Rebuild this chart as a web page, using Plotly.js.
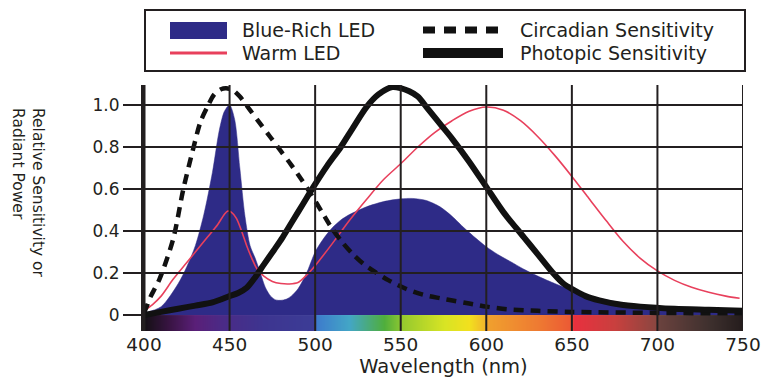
<!DOCTYPE html>
<html>
<head>
<meta charset="utf-8">
<script src="https://cdn.plot.ly/plotly-3.0.1.min.js"></script>
<style>html,body{margin:0;padding:0;background:#fff;}#chart{width:762px;height:381px;}</style>
</head>
<body>
<div id="chart"></div>
<script>
// ---- Data ----
const seriesNames = ["Blue-Rich LED", "Warm LED", "Circadian Sensitivity", "Photopic Sensitivity"];

const blueWl  = [400,410,420,425,430,435,440,444,447,450,453,456,459,462,465,468,471,474,477,480,483,486,490,495,500,505,510,515,520,530,540,550,557,565,573,580,587,594,600,607,614,622,631,640,649,660,670,685,700,725,750];
const blueLed = [0.01,0.04,0.15,0.23,0.33,0.48,0.68,0.88,0.97,1.0,0.93,0.70,0.47,0.33,0.27,0.20,0.13,0.09,0.072,0.07,0.075,0.09,0.125,0.2,0.30,0.365,0.415,0.452,0.478,0.515,0.54,0.553,0.555,0.545,0.515,0.47,0.415,0.365,0.325,0.287,0.255,0.218,0.182,0.15,0.122,0.093,0.072,0.052,0.04,0.03,0.024];

const warmWl  = [400,405,410,417,425,430,437,443,447,449,451,454,457,460,463,466,470,475,480,485,490,495,500,510,520,530,540,550,560,570,580,590,600,610,620,630,640,650,660,670,680,690,700,710,720,730,740,748];
const warmLed = [0.02,0.05,0.09,0.17,0.25,0.30,0.37,0.43,0.48,0.495,0.49,0.46,0.40,0.33,0.27,0.22,0.185,0.16,0.15,0.148,0.155,0.19,0.235,0.34,0.45,0.55,0.645,0.72,0.80,0.87,0.925,0.97,0.99,0.975,0.925,0.85,0.76,0.66,0.555,0.45,0.35,0.27,0.21,0.165,0.132,0.108,0.09,0.08];

const circWl   = [400,402,404,409,417,423,429,433,437,441,445,448,452,456,462,468,474,480,486,492,498,504,510,516,522,528,535,543,553,563,573,581,590,600,612,630,650,700,750];
const circadian = [0.01,0.05,0.09,0.17,0.36,0.60,0.80,0.92,0.99,1.05,1.075,1.08,1.07,1.04,0.975,0.91,0.845,0.78,0.715,0.645,0.57,0.49,0.41,0.345,0.29,0.245,0.205,0.165,0.125,0.097,0.08,0.068,0.055,0.04,0.028,0.02,0.015,0.01,0.008];

const photWl   = [400,410,420,430,440,450,455,460,465,470,476,481,487,493,499,507,515,522,530,537,545,550,555,560,566,573,580,590,600,610,622,630,639,645,651,658,666,678,690,710,730,750];
const photopic = [0.0,0.015,0.03,0.045,0.06,0.09,0.105,0.13,0.18,0.24,0.31,0.37,0.45,0.53,0.61,0.71,0.80,0.89,0.99,1.05,1.085,1.08,1.065,1.04,0.98,0.91,0.84,0.73,0.61,0.49,0.37,0.29,0.20,0.15,0.12,0.09,0.07,0.05,0.04,0.03,0.025,0.02];

// visible-spectrum strip under the axis
const specWl     = [400,415,430,445,470,499,501,520,540,549,551,575,590,599,601,630,649,651,675,699,701,730,750];
const specColors = ["#141014","#3a1445","#5a1f78","#4b2a86","#3d3590","#3c3c96","#3d7ccc","#43a6c6","#4fae3c","#86c432","#95c92e","#d8e424","#f2e01e","#f2b42c","#f0a02e","#ee7a32","#ec5a34","#e8303e","#c8403e","#8a4640","#6a423e","#3e302e","#241c1c"];

const xTicks = [400,450,500,550,600,650,700,750];
const yTicks = [0,0.2,0.4,0.6,0.8,1.0];
const yTickText = ["0","0.2","0.4","0.6","0.8","1.0"];

// ---- Layout geometry ----
const W = 762, H = 381;
const M = {l:144, r:19, t:85, b:50};
const PW = W - M.l - M.r, PH = H - M.t - M.b;
const px = p => (p - M.l) / PW;          // pixel x -> paper
const py = p => (H - M.b - p) / PH;      // pixel y -> paper

const INK = "#231f20", BLUE = "#2e2b87", RED = "#e8405c";
const FONT = "DejaVu Sans";

const specZ = [specWl.slice()];
const specScale = specWl.map((w, i) => [(w - specWl[0]) / (specWl[specWl.length-1] - specWl[0]), specColors[i]]);

const traces = [
  {type:"heatmap", x:specWl, y:[-0.076, 0], z:specZ, colorscale:specScale, zsmooth:"best", showscale:false, hoverinfo:"skip"},
  {type:"scatter", mode:"lines", name:seriesNames[0], x:blueWl, y:blueLed, fill:"tozeroy", fillcolor:BLUE,
   line:{color:BLUE, width:0.5, shape:"spline", smoothing:0.8}, showlegend:false},
  {type:"scatter", mode:"lines", name:seriesNames[1], x:warmWl, y:warmLed,
   line:{color:RED, width:1.6, shape:"spline", smoothing:0.8}, showlegend:false},
  {type:"scatter", mode:"lines", name:seriesNames[2], x:circWl, y:circadian,
   line:{color:"#111", width:4.5, dash:"10px,7px", shape:"spline", smoothing:0.8}, showlegend:false},
  {type:"scatter", mode:"lines", name:seriesNames[3], x:photWl, y:photopic,
   line:{color:"#111", width:6, shape:"spline", smoothing:0.8}, showlegend:false}
];

// grid lines drawn on top (as in the reference), built from tick arrays
const shapes = [];
xTicks.forEach(v => shapes.push({type:"line", layer:"above", xref:"x", yref:"paper", x0:v, x1:v, y0:0, y1:1,
  line:{color:INK, width: v === xTicks[0] ? 3 : 2}}));
yTicks.filter(v => v > 0).forEach(v => shapes.push({type:"line", layer:"above", xref:"paper", yref:"y", x0:0, x1:1, y0:v, y1:v,
  line:{color:INK, width:2}}));

// legend box
shapes.push({type:"rect", layer:"above", xref:"paper", yref:"paper", x0:px(145), x1:px(745), y0:py(71), y1:py(10),
  fillcolor:"#fff", line:{color:INK, width:2}});
shapes.push({type:"rect", layer:"above", xref:"paper", yref:"paper", x0:px(170), x1:px(227), y0:py(39), y1:py(22),
  fillcolor:BLUE, line:{width:0}});
shapes.push({type:"line", layer:"above", xref:"paper", yref:"paper", x0:px(170), x1:px(227), y0:py(53), y1:py(53),
  line:{color:RED, width:3}});
shapes.push({type:"line", layer:"above", xref:"paper", yref:"paper", x0:px(423), x1:px(505), y0:py(30), y1:py(30),
  line:{color:"#111", width:7, dash:"12px,9px"}});
shapes.push({type:"line", layer:"above", xref:"paper", yref:"paper", x0:px(423), x1:px(503), y0:py(53), y1:py(53),
  line:{color:"#111", width:10}});

const legendPos = [[240,30],[240,53],[518,30],[518,53]];
const annotations = seriesNames.map((n, i) => ({
  text:n, xref:"paper", yref:"paper", x:px(legendPos[i][0]), y:py(legendPos[i][1]),
  xanchor:"left", yanchor:"middle", showarrow:false, font:{family:FONT, size:19, color:INK}
}));
annotations.push({
  text:"Relative Sensitivity or<br>Radiant Power", xref:"paper", yref:"paper", x:px(28), y:py(193),
  xanchor:"center", yanchor:"middle", textangle:90, align:"left", showarrow:false,
  font:{family:FONT, size:15.5, color:INK}
});

const layout = {
  width:W, height:H, margin:M, paper_bgcolor:"#fff", plot_bgcolor:"#fff",
  showlegend:false, hovermode:false,
  font:{family:FONT, color:INK},
  xaxis:{range:[400,750], tickvals:xTicks, ticks:"", showgrid:false, zeroline:false, showline:false,
    tickfont:{family:FONT, size:18.5, color:INK},
    title:{text:"Wavelength (nm)", font:{family:FONT, size:19.5, color:INK}, standoff:5}},
  yaxis:{range:[-0.076,1.095], tickvals:yTicks, ticktext:yTickText, ticks:"outside", ticklen:18, tickwidth:2, tickcolor:INK,
    showgrid:false, zeroline:false, showline:true, linewidth:3, linecolor:INK, layer:"above traces",
    tickfont:{family:FONT, size:17, color:INK}},
  shapes:shapes, annotations:annotations
};

Plotly.newPlot("chart", traces, layout, {displayModeBar:false, staticPlot:true});
</script>
</body>
</html>
